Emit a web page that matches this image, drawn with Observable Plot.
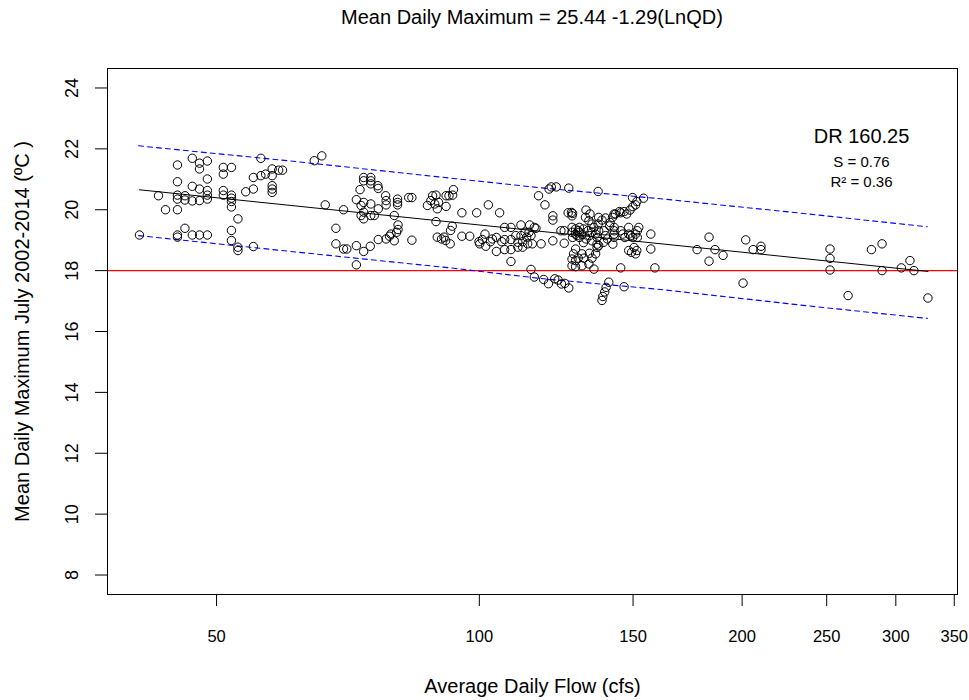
<!DOCTYPE html>
<html><head><meta charset="utf-8">
<script src="https://cdn.jsdelivr.net/npm/d3@7"></script>
<script src="https://cdn.jsdelivr.net/npm/@observablehq/plot@0.6"></script>
<style>
body{margin:0;background:#fff;font-family:"Liberation Sans",Arial,sans-serif;}
#title{height:34px;line-height:34px;margin-left:107px;width:850px;text-align:center;font-size:20px;color:#000;}
</style></head><body>
<div id="title">Mean Daily Maximum = 25.44 -1.29(LnQD)</div>
<div id="chart"></div>
<script>
// Observed points: average daily flow (cfs) and mean daily maximum (°C)
const flow = [
40.8,42.9,43.7,45.1,45.1,45.1,45.1,45.1,45.1,45.1,46.0,46.0,46.0,46.9,46.9,46.9,46.9,47.8,47.8,47.8,47.8,47.8,
48.8,48.8,48.8,48.8,48.8,48.8,50.9,50.9,50.9,50.9,52.0,52.0,52.0,52.0,52.0,52.0,52.0,52.9,52.9,52.9,54.0,55.1,
55.1,55.1,56.2,56.2,56.9,57.9,57.9,57.9,57.9,57.9,58.9,59.5,
64.7,66.0,66.6,68.5,68.5,69.9,69.9,70.5,72.3,72.3,72.3,73.0,73.2,73.2,73.7,73.7,75.1,75.1,75.1,73.7,73.7,73.7,
75.1,75.1,73.7,75.0,75.8,76.5,76.6,76.6,76.6,78.1,78.2,78.2,78.2,78.9,79.2,79.9,79.9,80.6,80.6,80.6,80.7,80.7,
80.4,83.0,83.7,83.7,87.2,88.0,88.4,88.9,89.2,89.5,89.8,91.6,91.6,92.3,93.2,93.4,89.2,89.5,90.5,91.1,91.5,92.6,
92.7,93.1,
95.5,99.3,102.4,105.5,95.5,97.5,99.9,100.1,100.8,101.5,101.7,103.0,103.5,104.6,104.6,106.1,106.9,106.9,106.9,
108.7,108.7,108.7,108.7,110.1,110.7,110.7,111.6,111.6,112.1,112.1,112.8,113.3,113.6,114.2,114.6,115.0,115.6,
116.1,114.0,117.7,116.9,118.9,120.2,114.6,115.6,118.5,120.0,
120.9,122.5,126.6,136.8,121.4,121.4,126.4,127.5,127.9,127.7,132.5,133.9,124.0,125.1,121.4,125.1,
127.7,128.9,129.8,130.2,131.1,128.9,127.7,129.4,130.2,131.6,127.9,130.2,131.6,
132.3,133.5,134.6,135.3,133.2,134.6,135.9,133.7,136.4,132.5,134.6,136.4,137.0,136.8,137.0,138.2,139.5,
128.9,128.2,127.7,128.9,129.8,131.1,131.8,133.7,134.6,135.9,136.4,137.0,131.1,133.5,135.3,127.7,128.9,
122.0,123.1,124.2,125.3,126.6,140.7,139.7,139.2,138.5,138.2,
149.8,154.2,151.5,143.2,144.7,145.2,146.5,147.5,148.8,149.9,151.0,142.7,142.1,141.2,141.0,142.7,142.7,142.7,
142.7,139.0,139.5,140.2,138.8,145.2,146.0,146.8,148.3,148.3,149.1,149.9,151.0,151.7,151.7,152.3,157.2,142.2,
148.3,149.4,150.4,151.5,151.0,157.2,145.2,158.9,146.5,
177.6,183.3,186.2,183.3,190.2,201.9,200.5,205.9,210.2,210.2,
252.2,252.2,252.2,281.3,289.3,289.3,264.5,304.4,311.4,314.7,326.5
];
const temp = [
19.17,20.46,20.0,21.47,20.92,20.48,20.35,20.0,19.17,19.1,20.46,20.32,19.39,21.69,20.77,20.29,19.17,21.53,21.34,20.68,20.3,19.17,
21.6,21.01,20.63,20.48,20.35,19.17,21.39,21.17,20.63,20.48,21.39,20.48,20.38,20.27,20.09,19.32,18.99,19.7,18.77,18.66,20.59,21.06,
20.68,18.79,21.69,21.12,21.17,21.34,21.12,20.79,20.68,20.57,21.3,21.3,
21.61,21.77,20.16,19.39,18.88,20.0,18.71,18.71,18.82,18.19,20.33,20.66,20.14,19.81,21.06,20.95,21.06,20.95,20.85,20.24,19.92,19.7,
20.19,19.81,18.63,18.8,19.81,20.79,20.7,20.03,19.02,20.46,20.3,20.16,19.04,19.13,19.2,19.81,18.98,20.35,20.24,20.16,19.5,19.35,
19.26,20.4,20.4,19.0,20.14,20.3,20.46,20.19,20.48,20.03,20.24,20.11,20.46,20.46,20.48,20.66,19.61,19.1,19.04,19.1,18.99,18.88,
19.32,19.46,
19.9,19.9,20.16,19.9,19.13,19.13,18.95,18.88,19.02,19.2,18.8,18.95,19.04,19.09,18.63,18.95,19.42,19.02,18.69,
19.42,19.02,18.69,18.3,19.15,18.93,18.77,19.5,19.15,18.95,18.77,19.26,19.1,18.88,19.5,19.15,18.88,19.42,
19.39,19.26,18.88,20.46,20.16,20.68,18.04,17.79,17.71,17.57,
20.75,20.75,20.71,20.6,19.8,19.66,19.9,19.91,19.88,19.8,19.99,19.86,19.31,19.31,18.98,18.9,
19.42,19.37,19.31,19.26,19.2,19.2,19.26,19.15,19.42,19.37,19.09,19.09,18.92,
19.75,19.64,19.53,19.42,19.31,19.26,19.2,19.15,19.09,19.04,18.98,18.87,19.31,19.53,19.75,19.66,19.73,
18.71,18.55,18.38,18.33,18.41,18.55,18.41,18.57,18.41,18.55,18.76,18.82,18.16,18.22,18.05,18.16,18.13,
17.73,17.69,17.56,17.58,17.43,17.62,17.45,17.3,17.15,17.02,
20.4,20.38,20.27,19.86,19.94,19.9,19.94,19.86,19.99,20.1,20.16,19.86,19.75,19.58,19.47,19.42,19.31,19.2,
19.09,19.31,19.15,19.04,18.93,19.31,19.2,19.09,19.42,19.2,19.15,19.09,19.2,19.31,19.09,19.42,19.2,18.87,
18.66,18.6,18.76,18.66,18.55,18.71,18.09,18.09,17.47,
18.69,19.1,18.69,18.31,18.5,19.01,17.59,18.69,18.8,18.69,
18.71,18.4,18.02,18.69,18.88,18.0,17.18,18.09,18.33,18.0,17.1
];

// Prediction band (dashed blue)
const bandFlow  = [40.7, 60.8, 94.0, 117.6, 161.4, 236.5, 326.0];
const bandUpper = [22.10, 21.60, 21.02, 20.72, 20.36, 19.87, 19.44];
const bandLower = [19.15, 18.63, 18.07, 17.74, 17.38, 16.85, 16.43];

// Fitted model: Mean Daily Maximum = 25.44 - 1.29 ln(QD)
const fitIntercept = 25.44;
const fitSlope = -1.29;

const threshold = [18];
const xTicks = [50, 100, 150, 200, 250, 300, 350];
const yTicks = [8, 10, 12, 14, 16, 18, 20, 22, 24];
const statLabels = ["DR 160.25", "S = 0.76", "R\u00B2 = 0.36"];
const xLabel = "Average Daily Flow (cfs)";
const yLabel = "Mean Daily Maximum July 2002-2014 (\u00BAC )";

const points = flow.map((f, i) => ({flow: f, temp: temp[i]}));
const band = bandFlow.map((f, i) => ({flow: f, upper: bandUpper[i], lower: bandLower[i]}));
const fit = d3.extent(flow).map(f => ({flow: f, temp: fitIntercept + fitSlope * Math.log(f)}));

const chart = Plot.plot({
  width: 969,
  height: 666,
  marginTop: 34,
  marginBottom: 106,
  marginLeft: 107,
  marginRight: 12,
  style: {fontFamily: "'Liberation Sans', Arial, sans-serif", background: "#fff", color: "#000", overflow: "visible"},
  x: {type: "log", domain: [37.5, 353]},
  y: {domain: [7.36, 24.64]},
  marks: [
    Plot.ruleY(threshold, {stroke: "#ff0000", strokeWidth: 1.2}),
    Plot.line(band, {x: "flow", y: "upper", stroke: "#0000ff", strokeWidth: 1.1, strokeDasharray: "5,4"}),
    Plot.line(band, {x: "flow", y: "lower", stroke: "#0000ff", strokeWidth: 1.1, strokeDasharray: "5,4"}),
    Plot.line(fit, {x: "flow", y: "temp", stroke: "#000", strokeWidth: 1}),
    Plot.dot(points, {x: "flow", y: "temp", r: 4.2, stroke: "#000", fill: "none", strokeWidth: 1}),
    Plot.frame({stroke: "#000", strokeWidth: 1}),
    Plot.axisX(xTicks, {tickSize: 12, tickPadding: 24, fontSize: 16.5, label: null, tickFormat: d => String(d)}),
    Plot.axisY(yTicks, {tickSize: 12, tickFormat: () => "", label: null}),
    Plot.text(yTicks, {y: d => d, text: d => String(d), frameAnchor: "left", dx: -35, rotate: -90,
      textAnchor: "middle", lineAnchor: "middle", fontSize: 18}),
    Plot.text([xLabel], {text: d => d, frameAnchor: "bottom", dy: 92, lineAnchor: "middle", fontSize: 20}),
    Plot.text([yLabel], {text: d => d, frameAnchor: "left", dx: -85, rotate: -90,
      textAnchor: "middle", lineAnchor: "middle", fontSize: 20}),
    Plot.text([statLabels[0]], {text: d => d, frameAnchor: "top-right", dx: -96, dy: 68,
      textAnchor: "middle", lineAnchor: "middle", fontSize: 20}),
    Plot.text([statLabels[1]], {text: d => d, frameAnchor: "top-right", dx: -96, dy: 94,
      textAnchor: "middle", lineAnchor: "middle", fontSize: 15}),
    Plot.text([statLabels[2]], {text: d => d, frameAnchor: "top-right", dx: -96, dy: 114,
      textAnchor: "middle", lineAnchor: "middle", fontSize: 15})
  ]
});
document.getElementById("chart").appendChild(chart);
</script>
</body></html>
